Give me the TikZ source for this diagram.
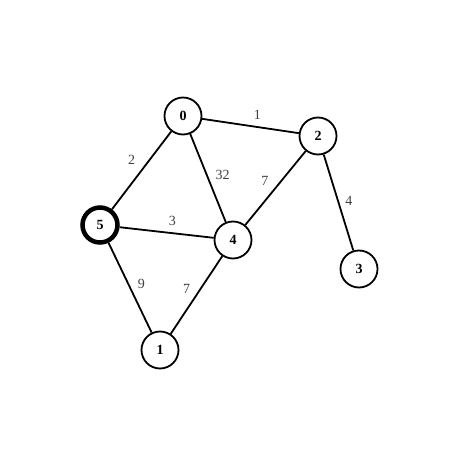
\documentclass[tikz,border=0pt]{standalone}
\usepackage{fontspec}
\setmainfont{Liberation Serif}
\usetikzlibrary{positioning}

\tikzset{
  vtx/.style={circle,draw,line width=1.8pt,minimum size=37pt,inner sep=0pt,
    font=\fontsize{14}{16}\selectfont\bfseries},
  src/.style={vtx,line width=4.5pt,minimum size=35pt},
  wt/.style={font=\fontsize{14}{16}\selectfont,text=black!75,inner sep=1pt},
}

\begin{document}
\begin{tikzpicture}[x=1pt,y=-1pt,line width=1.8pt]
  \useasboundingbox (0,0) rectangle (449,449);
  \node[vtx] (0) at (183,116) {0};
  \node[vtx] (2) at (318,136) {2};
  \node[src] (5) at (100,225) {5};
  \node[vtx] (4) at (233,240) {4};
  \node[vtx] (3) at (359,269) {3};
  \node[vtx] (1) at (160,350) {1};

  \draw (0) -- node[wt,pos=.57,yshift=12]{1} (2);
  \draw (0) -- node[wt,pos=.5,xshift=-10,yshift=10]{2} (5);
  \draw (0) -- node[wt,pos=.46,xshift=16]{32} (4);
  \draw (2) -- node[wt,pos=.41,xshift=-16]{7} (4);
  \draw (2) -- node[wt,pos=.48,xshift=11]{4} (3);
  \draw (5) -- node[wt,pos=.56,yshift=12]{3} (4);
  \draw (5) -- node[wt,pos=.46,xshift=13]{9} (1);
  \draw (4) -- node[wt,pos=.42,xshift=-14]{7} (1);
\end{tikzpicture}
\end{document}
